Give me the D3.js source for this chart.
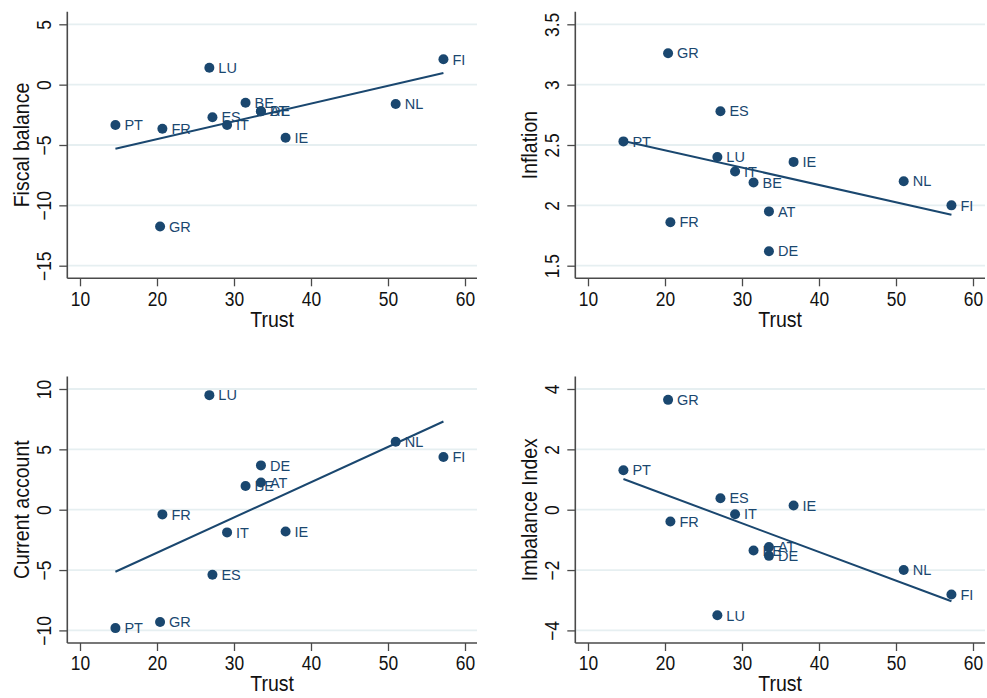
<!DOCTYPE html>
<html>
<head>
<meta charset="utf-8">
<script src="https://cdn.jsdelivr.net/npm/d3@7"></script>
<style>
  html, body { margin: 0; padding: 0; background: #fff; }
  svg { display: block; }
</style>
</head>
<body>
<div id="chart"></div>
<script>
// country order shared by every panel
const countries = ["AT", "BE", "DE", "ES", "FI", "FR", "GR", "IE", "IT", "LU", "NL", "PT"];
const trust = [33.5, 31.5, 33.5, 27.2, 57.2, 20.7, 20.4, 36.7, 29.1, 26.8, 51.0, 14.6];

const fiscalBalance = [-2.2, -1.5, -2.2, -2.7, 2.1, -3.65, -11.75, -4.4, -3.35, 1.4, -1.6, -3.35];
const inflation = [1.95, 2.19, 1.62, 2.78, 2.0, 1.86, 3.26, 2.36, 2.28, 2.40, 2.20, 2.53];
const currentAccount = [2.26, 1.96, 3.67, -5.39, 4.36, -0.39, -9.31, -1.80, -1.88, 9.49, 5.63, -9.81];
const imbalanceIndex = [-1.24, -1.35, -1.53, 0.38, -2.81, -0.39, 3.64, 0.14, -0.15, -3.50, -2.0, 1.31];

const trustTicks = [10, 20, 30, 40, 50, 60];
const fiscalTicks = [-15, -10, -5, 0, 5];
const inflationTicks = [1.5, 2, 2.5, 3, 3.5];
const currentTicks = [-10, -5, 0, 5, 10];
const imbalanceTicks = [-4, -2, 0, 2, 4];

const navy = "#1a476f";
const gridCol = "#e6eff1";
const axisCol = "#4a4a4a";
const stretch = 1.13; // axis text is a bit taller than Arial

const width = 987;
const height = 698;

// geometry of one panel, relative to its origin
const axisLeft = 67.3, plotRight = 477;
const axisTop = 11.7, axisBottom = 278.3;
const xLo = 80, xHi = 465;
const yLo = 265.7, yHi = 24.3;

const panels = [
  {values: fiscalBalance, ticks: fiscalTicks, title: "Fiscal balance", dx: 0, dy: 0},
  {values: inflation, ticks: inflationTicks, title: "Inflation", dx: 508, dy: 0},
  {values: currentAccount, ticks: currentTicks, title: "Current account", dx: 0, dy: 364.7},
  {values: imbalanceIndex, ticks: imbalanceTicks, title: "Imbalance Index", dx: 508, dy: 364.7}
];

const svg = d3.select("#chart").append("svg")
    .attr("width", width)
    .attr("height", height)
    .attr("viewBox", [0, 0, width, height])
    .style("font-family", "'Liberation Sans', Arial, sans-serif");

svg.append("rect").attr("width", width).attr("height", height).attr("fill", "#fff");

const fmt = d3.format("");

function linfit(xs, ys) {
  const mx = d3.mean(xs), my = d3.mean(ys);
  let sxy = 0, sxx = 0;
  xs.forEach((v, i) => { sxy += (v - mx) * (ys[i] - my); sxx += (v - mx) * (v - mx); });
  const b = sxy / sxx;
  return v => my + b * (v - mx);
}

panels.forEach(p => {
  const g = svg.append("g").attr("transform", `translate(${p.dx},${p.dy})`);

  const x = d3.scaleLinear()
      .domain([trustTicks[0], trustTicks[trustTicks.length - 1]])
      .range([xLo, xHi]);
  const y = d3.scaleLinear()
      .domain([p.ticks[0], p.ticks[p.ticks.length - 1]])
      .range([yLo, yHi]);

  // gridlines
  g.append("g")
    .selectAll("line")
    .data(p.ticks)
    .join("line")
      .attr("x1", axisLeft + 1)
      .attr("x2", plotRight)
      .attr("y1", d => y(d))
      .attr("y2", d => y(d))
      .attr("stroke", gridCol)
      .attr("stroke-width", 1.8);

  // x axis
  const gx = g.append("g")
      .attr("transform", `translate(0,${axisBottom})`)
      .call(d3.axisBottom(x).tickValues(trustTicks).tickFormat(fmt).tickSize(8).tickSizeOuter(0));
  gx.select(".domain").remove();
  gx.selectAll(".tick line").attr("stroke", axisCol).attr("stroke-width", 1.3);
  gx.selectAll(".tick text")
      .attr("y", null).attr("dy", null)
      .attr("transform", `translate(0,27.4) scale(1,${stretch})`)
      .attr("fill", "#111")
      .style("font-size", "17.4px");

  // y axis
  const gy = g.append("g")
      .attr("transform", `translate(${axisLeft},0)`)
      .call(d3.axisLeft(y).tickValues(p.ticks).tickFormat(fmt).tickSize(8).tickSizeOuter(0));
  gy.select(".domain").remove();
  gy.selectAll(".tick line").attr("stroke", axisCol).attr("stroke-width", 1.3);
  gy.selectAll(".tick text")
      .attr("x", null).attr("dy", null)
      .attr("text-anchor", "middle")
      .attr("transform", `translate(-16.6,0) rotate(-90) scale(1,${stretch})`)
      .attr("fill", "#111")
      .style("font-size", "17.4px");

  // axis lines
  g.append("line")
      .attr("x1", axisLeft).attr("x2", axisLeft)
      .attr("y1", axisTop).attr("y2", axisBottom)
      .attr("stroke", axisCol).attr("stroke-width", 1.6);
  g.append("line")
      .attr("x1", axisLeft).attr("x2", plotRight)
      .attr("y1", axisBottom).attr("y2", axisBottom)
      .attr("stroke", axisCol).attr("stroke-width", 1.6);

  // axis titles
  g.append("text")
      .attr("transform", `translate(${(axisLeft + plotRight) / 2},${axisBottom + 48.4}) scale(1,${stretch})`)
      .attr("text-anchor", "middle")
      .attr("fill", "#111")
      .style("font-size", "19.5px")
      .text("Trust");
  g.append("text")
      .attr("transform", `translate(${axisLeft - 38},${(axisTop + axisBottom) / 2}) rotate(-90) scale(1,${stretch})`)
      .attr("text-anchor", "middle")
      .attr("fill", "#111")
      .style("font-size", "19.5px")
      .text(p.title);

  // points with labels
  const pts = countries.map((c, i) => ({c: c, t: trust[i], v: p.values[i]}));
  const pg = g.append("g")
    .selectAll("g")
    .data(pts)
    .join("g")
      .attr("transform", d => `translate(${x(d.t)},${y(d.v)})`);
  pg.append("circle")
      .attr("r", 5)
      .attr("fill", navy);
  pg.append("text")
      .attr("x", 9)
      .attr("y", 5.2)
      .attr("fill", navy)
      .style("font-size", "14.5px")
      .text(d => d.c);

  // linear fit over the data range
  const f = linfit(trust, p.values);
  const ext = d3.extent(trust);
  const line = d3.line(d => x(d), d => y(f(d)));
  g.append("path")
      .attr("d", line(ext))
      .attr("fill", "none")
      .attr("stroke", navy)
      .attr("stroke-width", 2);
});
</script>
</body>
</html>
